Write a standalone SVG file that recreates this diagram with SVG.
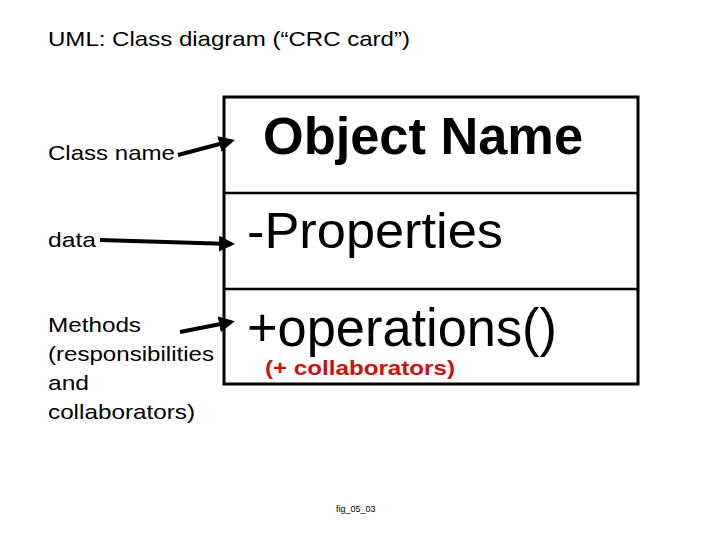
<svg xmlns="http://www.w3.org/2000/svg" width="720" height="540" viewBox="0 0 720 540">
<style>
text{font-family:"Liberation Sans",Arial,sans-serif}
.l{font-size:21px;fill:#000}
.c{stroke:#000;stroke-width:4;fill:none}
</style>
<defs><marker id="a" markerWidth="4" markerHeight="4" refX="3" refY="2" orient="auto"><path d="M0,0L4,2L0,4Z" fill="#000"/></marker></defs>
<rect width="720" height="540" fill="#fff"/>
<text x="48" y="46" class="l" textLength="362" lengthAdjust="spacingAndGlyphs">UML: Class diagram (“CRC card”)</text>
<g id="labels">
<text x="48" y="160" class="l" textLength="127" lengthAdjust="spacingAndGlyphs">Class name</text>
<text x="48" y="247" class="l" textLength="48" lengthAdjust="spacingAndGlyphs">data</text>
<text x="48" y="332" class="l" textLength="93" lengthAdjust="spacingAndGlyphs">Methods</text>
<text x="48" y="361" class="l" textLength="166" lengthAdjust="spacingAndGlyphs">(responsibilities</text>
<text x="48" y="390" class="l" textLength="41" lengthAdjust="spacingAndGlyphs">and</text>
<text x="48" y="419" class="l" textLength="147" lengthAdjust="spacingAndGlyphs">collaborators)</text>
</g>
<g id="card">
<rect x="224" y="97" width="414" height="287" fill="#fff" stroke="#000" stroke-width="3"/>
<line x1="224" y1="193" x2="638" y2="193" stroke="#000" stroke-width="2.5"/>
<line x1="224" y1="289" x2="638" y2="289" stroke="#000" stroke-width="2.5"/>
<text x="263" y="154" font-size="51" font-weight="bold" textLength="320" lengthAdjust="spacingAndGlyphs">Object Name</text>
<text x="247" y="248" font-size="50" textLength="256" lengthAdjust="spacingAndGlyphs">-Properties</text>
<text x="247" y="346" font-size="54" textLength="310" lengthAdjust="spacingAndGlyphs">+operations()</text>
<text x="265" y="375" font-size="21" font-weight="bold" fill="#cc1111" textLength="190" lengthAdjust="spacingAndGlyphs">(+ collaborators)</text>
</g>
<g id="connectors">
<line class="c" x1="178" y1="155" x2="231" y2="141" marker-end="url(#a)"/>
<line class="c" x1="100" y1="240" x2="231" y2="244" marker-end="url(#a)"/>
<line class="c" x1="180" y1="332" x2="231" y2="322" marker-end="url(#a)"/>
</g>
<text x="336" y="512" font-size="9">fig_05_03</text>
</svg>
